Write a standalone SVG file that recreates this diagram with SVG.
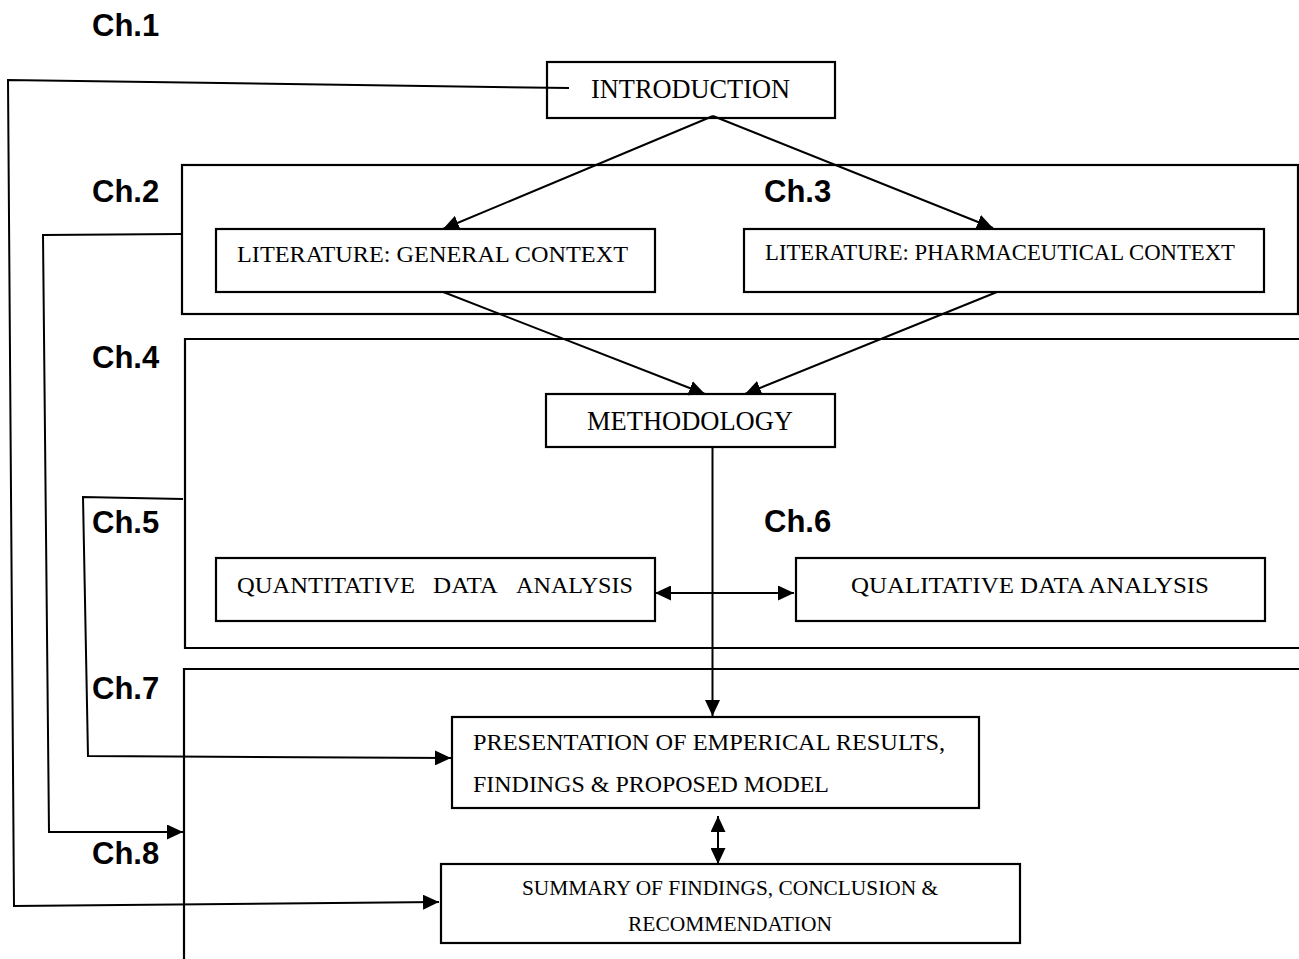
<svg xmlns="http://www.w3.org/2000/svg" width="1299" height="959" viewBox="0 0 1299 959">
  <style>
    .box { fill: #fff; stroke: #000; stroke-width: 2.2; }
    .open { fill: none; }
    .frame { fill: none; stroke: #000; stroke-width: 2.2; }
    .wire { fill: none; stroke: #000; stroke-width: 2; }
    .arrow { marker-end: url(#head); }
    .both { marker-start: url(#head); marker-end: url(#head); }
    .lbl { font-family: "Liberation Serif", "Times New Roman", serif; fill: #000; }
    .ch { font-family: "Liberation Sans", Arial, sans-serif; font-weight: bold; font-size: 31px; fill: #000; }
  </style>
  <defs>
    <marker id="head" viewBox="0 0 16 15" markerUnits="userSpaceOnUse" markerWidth="16" markerHeight="15" refX="16" refY="7.5" orient="auto-start-reverse">
      <path d="M0,0 L16,7.5 L0,15 z" fill="#000"/>
    </marker>
  </defs>
  <rect width="1299" height="959" fill="#fff"/>

  <!-- chapter frames -->
  <g id="frame-ch2-ch3">
    <rect class="frame" x="182" y="165" width="1116" height="149"/>
  </g>
  <g id="frame-ch4-ch6">
    <polyline class="frame" points="1299,339 185,339 185,648 1299,648"/>
  </g>
  <g id="frame-ch7-ch8">
    <polyline class="frame" points="1299,669 184,669 184,959"/>
  </g>

  <!-- chapter labels -->
  <g id="chapter-labels">
    <text class="ch" x="92" y="36">Ch.1</text>
    <text class="ch" x="92" y="202">Ch.2</text>
    <text class="ch" x="764" y="202">Ch.3</text>
    <text class="ch" x="92" y="368">Ch.4</text>
    <text class="ch" x="92" y="533">Ch.5</text>
    <text class="ch" x="764" y="532">Ch.6</text>
    <text class="ch" x="92" y="699">Ch.7</text>
    <text class="ch" x="92" y="864">Ch.8</text>
  </g>

  <!-- connectors -->
  <g id="connectors">
    <!-- introduction feeds the two literature chapters -->
    <line class="wire arrow" x1="713" y1="116" x2="443" y2="229"/>
    <line class="wire arrow" x1="713" y1="116" x2="993" y2="228"/>
    <!-- literature feeds methodology -->
    <line class="wire arrow" x1="433" y1="288" x2="705" y2="394"/>
    <line class="wire arrow" x1="997" y1="292" x2="745" y2="394"/>
    <!-- methodology down to results -->
    <line class="wire arrow" x1="712.5" y1="446" x2="712.5" y2="716"/>
    <!-- quantitative / qualitative link -->
    <line class="wire both" x1="655" y1="593" x2="794" y2="593"/>
    <!-- results / summary link -->
    <line class="wire both" x1="718" y1="816" x2="718" y2="864"/>
    <!-- feedback loops on the left -->
    <polyline class="wire arrow" points="569,88 8,80 14,906 439,902"/>
    <polyline class="wire arrow" points="181,234 43,235 49,832 183,832"/>
    <polyline class="wire arrow" points="183,499 83,497 88,756 451,758"/>
  </g>

  <!-- nodes -->
  <g id="introduction">
    <rect class="box open" x="547" y="62" width="288" height="56"/>
    <text class="lbl" x="591" y="98" font-size="28" textLength="199" lengthAdjust="spacingAndGlyphs">INTRODUCTION</text>
  </g>
  <g id="literature-general">
    <rect class="box" x="216" y="229" width="439" height="63"/>
    <text class="lbl" x="237" y="262" font-size="23.5" textLength="391" lengthAdjust="spacingAndGlyphs">LITERATURE: GENERAL CONTEXT</text>
  </g>
  <g id="literature-pharmaceutical">
    <rect class="box" x="744" y="229" width="520" height="63"/>
    <text class="lbl" x="765" y="260" font-size="23" textLength="470" lengthAdjust="spacingAndGlyphs">LITERATURE: PHARMACEUTICAL CONTEXT</text>
  </g>
  <g id="methodology">
    <rect class="box open" x="546" y="394" width="289" height="53"/>
    <text class="lbl" x="587" y="430" font-size="28" textLength="206" lengthAdjust="spacingAndGlyphs">METHODOLOGY</text>
  </g>
  <g id="quantitative">
    <rect class="box" x="216" y="558" width="439" height="63"/>
    <text class="lbl" y="593" font-size="23"><tspan x="237" textLength="178" lengthAdjust="spacingAndGlyphs">QUANTITATIVE</tspan><tspan x="433" textLength="65" lengthAdjust="spacingAndGlyphs">DATA</tspan><tspan x="516" textLength="117" lengthAdjust="spacingAndGlyphs">ANALYSIS</tspan></text>
  </g>
  <g id="qualitative">
    <rect class="box" x="796" y="558" width="469" height="63"/>
    <text class="lbl" x="851" y="593" font-size="24" textLength="358" lengthAdjust="spacingAndGlyphs">QUALITATIVE DATA ANALYSIS</text>
  </g>
  <g id="presentation">
    <rect class="box" x="452" y="717" width="527" height="91"/>
    <text class="lbl" x="473" y="750" font-size="24" textLength="472" lengthAdjust="spacingAndGlyphs">PRESENTATION OF EMPERICAL RESULTS,</text>
    <text class="lbl" x="473" y="792" font-size="24" textLength="356" lengthAdjust="spacingAndGlyphs">FINDINGS &amp; PROPOSED MODEL</text>
  </g>
  <g id="summary">
    <rect class="box" x="441" y="864" width="579" height="79"/>
    <text class="lbl" x="522" y="895" font-size="21" textLength="416" lengthAdjust="spacingAndGlyphs">SUMMARY OF FINDINGS, CONCLUSION &amp;</text>
    <text class="lbl" x="628" y="931" font-size="21" textLength="204" lengthAdjust="spacingAndGlyphs">RECOMMENDATION</text>
  </g>
</svg>
